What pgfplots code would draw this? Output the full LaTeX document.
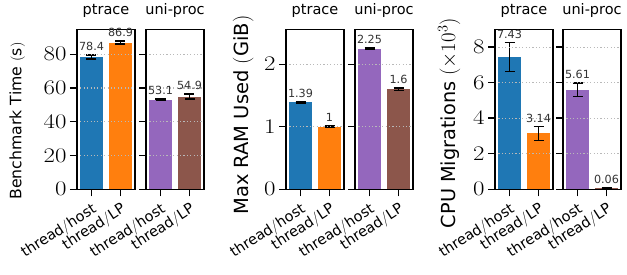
\documentclass[border=0pt]{standalone}
\usepackage[no-math]{fontspec}
\setmainfont{DejaVu Sans}
\usepackage{graphicx}
\usepackage{pgfplots}
\pgfplotsset{compat=1.18}
\definecolor{cA}{HTML}{1F77B4}
\definecolor{cB}{HTML}{FF7F0E}
\definecolor{cC}{HTML}{9467BD}
\definecolor{cD}{HTML}{8C564B}
\newcommand{\fz}[1]{\fontsize{#1}{#1}\selectfont}
\pgfplotsset{
  every axis title shift=0pt,
  panel/.style={
    scale only axis, width=58pt, height=160pt,
    xmin=-0.5, xmax=1.5, ymin=0,
    xtick={0,1}, xticklabels={thread$/$host,thread$/$LP},
    axis line style={line width=1.4pt, black},
    tick style={line width=1.4pt, black},
    major tick length=7pt, tick align=outside,
    xtick pos=lower, ytick pos=left,
    ymajorgrids, axis on top,
    major grid style={gray!55, line width=1.1pt, dash pattern=on 1.1pt off 2.3pt},
    title style={font=\fz{14.5}, anchor=base, yshift=15pt},
    yticklabel={\fz{22}\scalebox{1.2}[1]{$\pgfmathprintnumber{\tick}$}},
    xticklabel style={font=\fz{14.5}, yshift=-4pt, rotate=33, anchor=north east, inner sep=1pt},
    clip=false,
  },
  ylab/.style n args={3}{ylabel style={at={(axis description cs:#1,#2)}, anchor=center, rotate=0, font=\fz{#3}}},
  bar/.style={ybar, bar width=0.8, bar shift=0pt, draw=none, fill=#1,
    error bars/.cd, y dir=both, y explicit,
    error bar style={black, line width=1.4pt},
    error mark options={black, line width=1.4pt, mark size=5pt, rotate=90}},
  vlab/.style={draw=none, mark=none, nodes near coords, point meta=explicit symbolic,
    nodes near coords style={font=\fz{11.2}, text=black!80, anchor=base, yshift=4.5pt, inner sep=0pt}},
}
\begin{document}
\begin{tikzpicture}
\path[use as bounding box] (0,0) rectangle (627pt,275pt);
% ---- Group 1: Benchmark time
\begin{axis}[panel, at={(77pt,85.7pt)}, anchor=south west, ymax=94.8,
  ytick={0,20,40,60,80}, title={ptrace}, ylab={-1.03}{0.427}{15.7},
  ylabel={Benchmark Time $($s$)$}]
\addplot[bar=cA] coordinates {(0,78.4) +- (0,1.2)};
\addplot[bar=cB] coordinates {(1,86.9) +- (0,0.9)};
\addplot[vlab] coordinates {(0,79.6)[78.4] (1,87.8)[86.9]};
\end{axis}
\begin{axis}[panel, at={(146pt,85.7pt)}, anchor=south west, ymax=94.8,
  ytick={0,20,40,60,80}, yticklabels={}, title={uni-proc}]
\addplot[bar=cC] coordinates {(0,53.1) +- (0,0.5)};
\addplot[bar=cD] coordinates {(1,54.9) +- (0,1.5)};
\addplot[vlab] coordinates {(0,53.6)[53.1] (1,56.4)[54.9]};
\end{axis}
% ---- Group 2: Max RAM
\begin{axis}[panel, at={(286pt,85.7pt)}, anchor=south west, ymax=2.56,
  ytick={0,1,2}, title={ptrace}, ylab={-0.74}{0.464}{19.5},
  ylabel={Max RAM Used $($GiB$)$}]
\addplot[bar=cA] coordinates {(0,1.39) +- (0,0.01)};
\addplot[bar=cB] coordinates {(1,1.00) +- (0,0.01)};
\addplot[vlab] coordinates {(0,1.40)[1.39] (1,1.01)[1]};
\end{axis}
\begin{axis}[panel, at={(355pt,85.7pt)}, anchor=south west, ymax=2.56,
  ytick={0,1,2}, yticklabels={}, title={uni-proc}]
\addplot[bar=cC] coordinates {(0,2.25) +- (0,0.01)};
\addplot[bar=cD] coordinates {(1,1.60) +- (0,0.02)};
\addplot[vlab] coordinates {(0,2.26)[2.25] (1,1.62)[1.6]};
\end{axis}
% ---- Group 3: CPU migrations
\begin{axis}[panel, at={(495pt,85.7pt)}, anchor=south west, ymax=9.0,
  ytick={0,2,4,6,8}, title={ptrace}, ylab={-0.79}{0.414}{19.3},
  ylabel={CPU Migrations $(\times 10^3)$}]
\addplot[bar=cA] coordinates {(0,7.43) +- (0,0.82)};
\addplot[bar=cB] coordinates {(1,3.14) +- (0,0.39)};
\addplot[vlab] coordinates {(0,8.25)[7.43] (1,3.53)[3.14]};
\end{axis}
\begin{axis}[panel, at={(563pt,85.7pt)}, anchor=south west, ymax=9.0,
  ytick={0,2,4,6,8}, yticklabels={}, title={uni-proc}]
\addplot[bar=cC] coordinates {(0,5.61) +- (0,0.38)};
\addplot[bar=cD] coordinates {(1,0.06) +- (0,0.01)};
\addplot[vlab] coordinates {(0,5.99)[5.61] (1,0.07)[0.06]};
\end{axis}
\end{tikzpicture}
\end{document}
